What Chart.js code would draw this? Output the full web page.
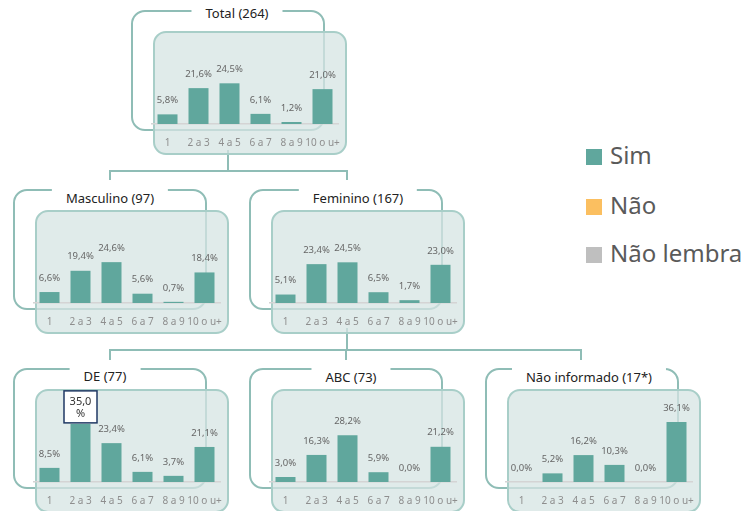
<!DOCTYPE html>
<html>
<head>
<meta charset="utf-8">
<script src="https://cdn.jsdelivr.net/npm/chart.js@4.4.0/dist/chart.umd.min.js"></script>
<style>
  body { margin: 0; background: #fff; width: 745px; height: 511px; overflow: hidden; position: relative; font-family: 'Noto Sans', sans-serif; }
  .frame { position: absolute; border: 2px solid #8fbdb6; border-radius: 14px; box-sizing: border-box; }
  .box { position: absolute; background: rgba(214, 228, 227, 0.75); border: 2px solid #a8cec8; border-radius: 13px; box-sizing: border-box; }
  .line { position: absolute; background: #8fbdb6; }
  .title { position: absolute; background: #fff; color: #222; font-size: 13px; line-height: 26px; padding: 0 14px; transform: translateX(-50%); white-space: nowrap; }
  canvas { position: absolute; }
  .leg { position: absolute; left: 586px; font-size: 24px; color: #5a5a5a; white-space: nowrap; }
  .leg span { display: inline-block; width: 16px; height: 16px; margin-right: 8px; vertical-align: -1px; }
</style>
</head>
<body>
<script>
// categories and series
const categories = ['1', '2 a 3', '4 a 5', '6 a 7', '8 a 9', '10 o u+'];
const panelTitles = ['Total (264)', 'Masculino (97)', 'Feminino (167)', 'DE (77)', 'ABC (73)', 'Não informado (17*)'];
const simTotal = [5.8, 21.6, 24.5, 6.1, 1.2, 21.0];
const simMasculino = [6.6, 19.4, 24.6, 5.6, 0.7, 18.4];
const simFeminino = [5.1, 23.4, 24.5, 6.5, 1.7, 23.0];
const simDE = [8.5, 35.0, 23.4, 6.1, 3.7, 21.1];
const simABC = [3.0, 16.3, 28.2, 5.9, 0.0, 21.2];
const simNaoInformado = [0.0, 5.2, 16.2, 10.3, 0.0, 36.1];
const seriesNames = ['Sim', 'Não', 'Não lembra'];
const seriesColors = ['#60a79d', '#fbbf60', '#bfbfbf'];

const panelValues = [simTotal, simMasculino, simFeminino, simDE, simABC, simNaoInformado];

// layout: inner box left/top, title centre x/y
const panels = [
    { x: 153, y: 31, tx: 237, ty: 13 },
    { x: 35, y: 210, tx: 110, ty: 198 },
    { x: 271, y: 210, tx: 358, ty: 198 },
    { x: 35, y: 389, tx: 105, ty: 376 },
    { x: 271, y: 389, tx: 351, ty: 377 },
    { x: 507, y: 389, tx: 589, ty: 377 }
];
const highlightPanel = 3;
const highlightIndex = 1;

function addDiv(cls, x, y, w, h) {
    const d = document.createElement('div');
    d.className = cls;
    d.style.left = x + 'px'; d.style.top = y + 'px';
    d.style.width = w + 'px'; d.style.height = h + 'px';
    document.body.appendChild(d);
    return d;
}

// connectors
[[227, 150, 2, 22], [110, 170, 238, 2], [109, 170, 2, 10], [346, 170, 2, 10],
 [346, 328, 2, 23], [110, 349, 472, 2], [109, 349, 2, 11], [345, 349, 2, 11], [580, 349, 2, 11]]
    .forEach(l => addDiv('line', l[0], l[1], l[2], l[3]));

panels.forEach(p => addDiv('frame', p.x - 22, p.y - 21, 194, 121));
panels.forEach(p => addDiv('box', p.x, p.y, 194, 124));

// value labels above bars
const valueLabels = {
    id: 'valueLabels',
    afterDatasetsDraw(chart, args, opts) {
        const ctx = chart.ctx;
        const meta = chart.getDatasetMeta(0);
        const values = chart.data.datasets[0].data;
        ctx.save();
        ctx.textAlign = 'center';
        ctx.textBaseline = 'middle';
        meta.data.forEach((bar, i) => {
            const txt = values[i].toFixed(1).replace('.', ',');
            if (i === opts.highlight) {
                const w = 33, h = 32, top = bar.y - 1 - h;
                ctx.fillStyle = '#fff';
                ctx.fillRect(bar.x - w / 2, top, w, h);
                ctx.strokeStyle = '#1f3864';
                ctx.lineWidth = 1.5;
                ctx.strokeRect(bar.x - w / 2, top, w, h);
                ctx.fillStyle = '#333';
                ctx.font = '11px "Noto Sans"';
                ctx.fillText(txt, bar.x, top + 11);
                ctx.fillText('%', bar.x, top + 23);
            } else {
                ctx.fillStyle = '#666';
                ctx.font = '9.5px "Noto Sans"';
                ctx.fillText(txt + '%', bar.x, bar.y - 14);
            }
        });
        ctx.restore();
    }
};

panels.forEach((p, k) => {
    const c = document.createElement('canvas');
    c.width = 206; c.height = 124;
    c.style.left = (p.x - 11) + 'px';
    c.style.top = p.y + 'px';
    document.body.appendChild(c);

    new Chart(c.getContext('2d'), {
        type: 'bar',
        data: {
            labels: categories,
            datasets: [{
                label: seriesNames[0],
                data: panelValues[k],
                backgroundColor: seriesColors[0],
                barPercentage: 0.645,
                categoryPercentage: 1
            }]
        },
        options: {
            responsive: false,
            animation: false,
            layout: { padding: { left: 10, right: 10, top: 0, bottom: 0 } },
            plugins: {
                legend: { display: false },
                tooltip: { enabled: false },
                valueLabels: { highlight: k === highlightPanel ? highlightIndex : -1 }
            },
            scales: {
                x: {
                    grid: { display: false, drawTicks: false },
                    border: { display: true, color: '#d4d4d4', width: 1.5 },
                    ticks: {
                        color: '#8e8e8e',
                        font: { family: 'Noto Sans', size: 10 },
                        padding: 13,
                        autoSkip: false,
                        maxRotation: 0,
                        minRotation: 0
                    },
                    afterFit: s => {
                        s.height = 31;
                        s.paddingLeft = 0;
                        s.paddingRight = 0;
                    }
                },
                y: { display: false, min: 0, max: 56 }
            }
        },
        plugins: [valueLabels]
    });

    const t = document.createElement('div');
    t.className = 'title';
    t.textContent = panelTitles[k];
    t.style.left = p.tx + 'px';
    t.style.top = (p.ty - 13) + 'px';
    t.style.height = (p.y - p.ty + 12) + 'px';
    document.body.appendChild(t);
});

// legend
const legendY = [155, 205, 253];
seriesNames.forEach((name, i) => {
    const d = document.createElement('div');
    d.className = 'leg';
    d.style.top = (legendY[i] - 17) + 'px';
    d.innerHTML = '<span style="background:' + seriesColors[i] + '"></span>' + name;
    document.body.appendChild(d);
});
</script>
</body>
</html>
